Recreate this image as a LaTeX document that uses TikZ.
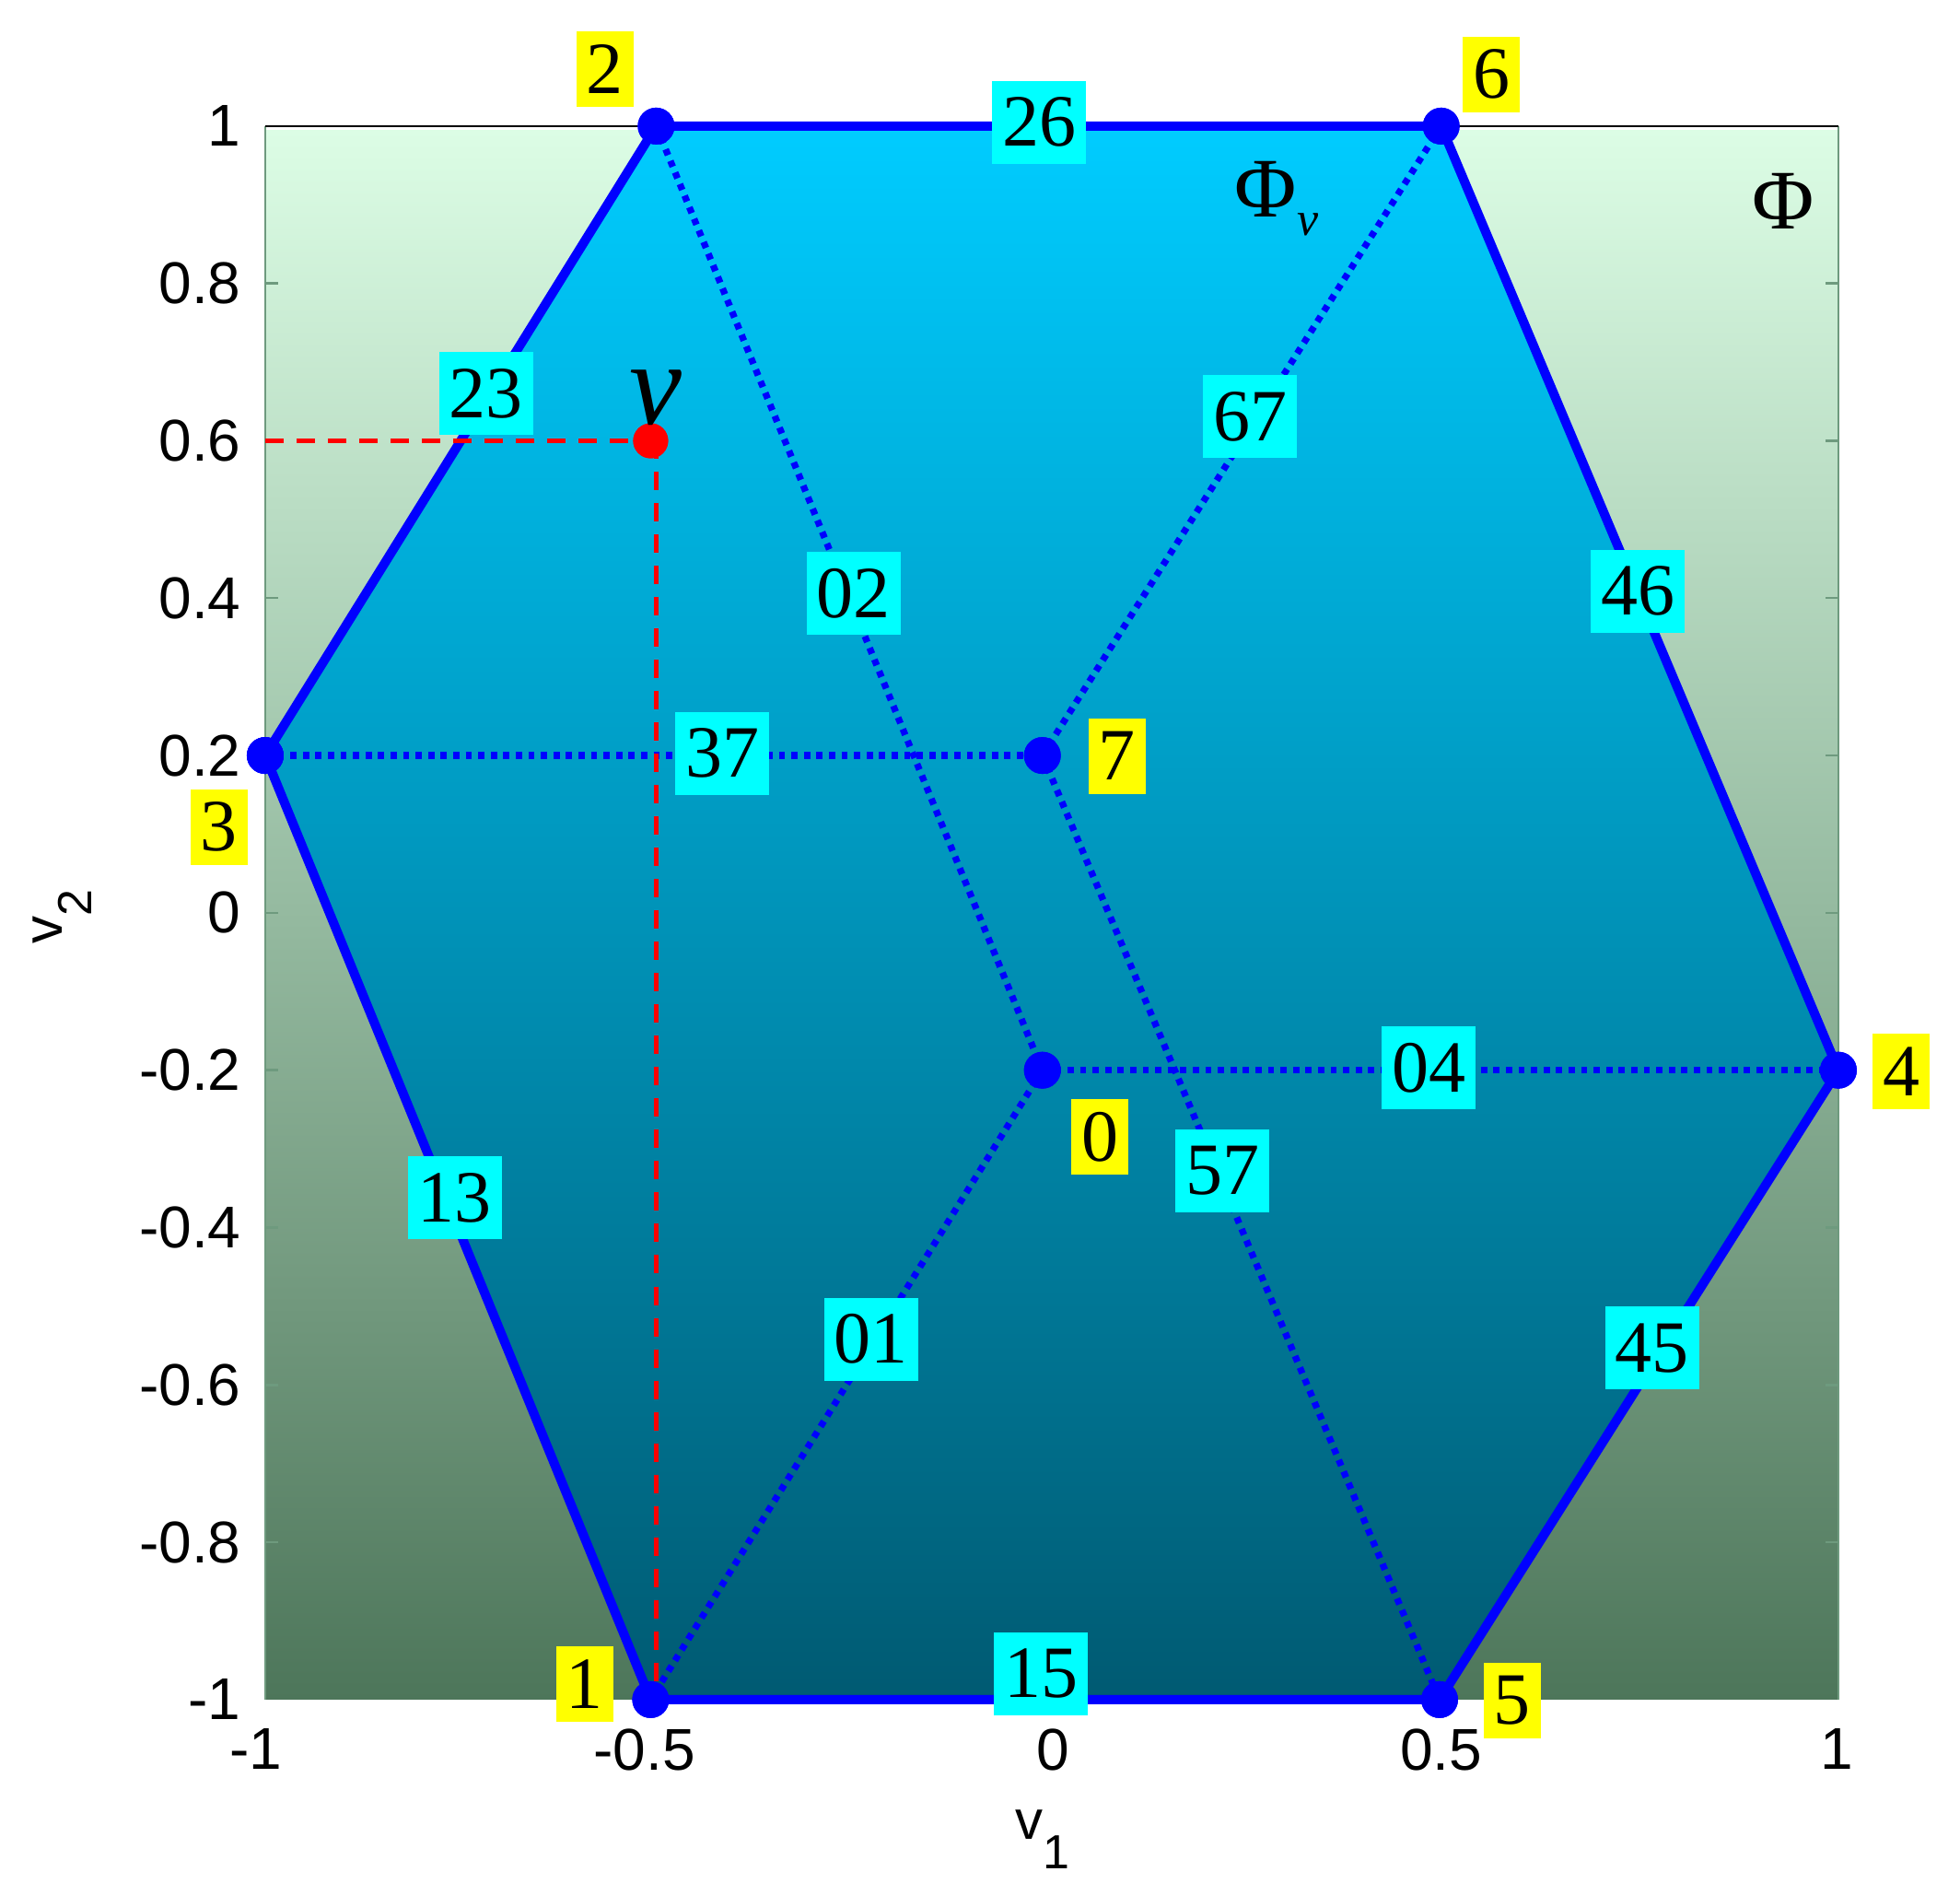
\documentclass[tikz,border=0pt]{standalone}
\usepackage{fontspec}
\setmainfont{Liberation Serif}
\newfontfamily\arialf{Liberation Sans}
\definecolor{bgtop}{HTML}{DCFDE5}
\definecolor{bgbot}{HTML}{4D765A}
\definecolor{hxtop}{HTML}{00CCFF}
\definecolor{hxbot}{HTML}{005A72}
\definecolor{tickc}{HTML}{6E9A7E}
\definecolor{cyanbox}{HTML}{00FFFF}
\definecolor{yelbox}{HTML}{FFFF00}
\definecolor{vblue}{HTML}{0000FF}
\definecolor{vred}{HTML}{FF0000}
\begin{document}
\begin{tikzpicture}[x=213.5pt,y=213.5pt,
  ticklab/.style={font=\arialf\fontsize{16pt}{16pt}\selectfont, inner sep=0pt},
  edgelab/.style={fill=cyanbox, font=\fontsize{20pt}{20pt}\selectfont, minimum width=25.5pt, minimum height=22.5pt, inner sep=0pt},
  vertlab/.style={fill=yelbox, font=\fontsize{20pt}{20pt}\selectfont, minimum width=15.5pt, minimum height=20.5pt, inner sep=0pt},
  vdot/.style={circle, fill=vblue, minimum size=10pt, inner sep=0pt},
  rdot/.style={circle, fill=vred, minimum size=9.5pt, inner sep=0pt},
  hexline/.style={vblue, line width=2.5pt, line join=round},
  dotline/.style={vblue, line width=1.8pt, dash pattern=on 1.7pt off 1.7pt},
  redline/.style={vred, line width=1.4pt, dash pattern=on 5pt off 3.5pt},
  tickline/.style={tickc, line width=0.6pt}
]
\useasboundingbox (-1.3372,-1.2481) rectangle (1.1546,1.1603);
% background
\shade[top color=bgtop, bottom color=bgbot] (-1,-1) rectangle (1,0.995);
% vertex coordinates
\coordinate (c1) at (-0.510,-1);
\coordinate (c2) at (-0.503,1);
\coordinate (c3) at (-1,0.2);
\coordinate (c4) at (1,-0.2);
\coordinate (c5) at (0.493,-1);
\coordinate (c6) at (0.495,1);
\coordinate (c7) at (-0.012,0.2);
\coordinate (c0) at (-0.012,-0.2);
% hexagon fill
\shade[top color=hxtop, bottom color=hxbot] (c2)--(c6)--(c4)--(c5)--(c1)--(c3)--cycle;
% axes frame
\coordinate (axbl) at (-1,-1);
\coordinate (axtl) at (-1,1);
\coordinate (axbr) at (1,-1);
\coordinate (axtr) at (1,1);
\draw[tickline] (axbl)--(axtl);
\draw[tickline] (axbr)--(axtr);
\draw[black, line width=0.5pt] (axtl)--(axtr);
\foreach \yy in {-0.8,-0.6,-0.4,-0.2,0,0.2,0.4,0.6,0.8} {
  \draw[tickline] (-1,\yy)--++(0.0164,0);
  \draw[tickline] (1,\yy)--++(-0.0164,0);
}
% tick labels
\foreach \yy/\tt in {1/1,0.8/0.8,0.6/0.6,0.4/0.4,0.2/0.2,0/0,-0.2/-0.2,-0.4/-0.4,-0.6/-0.6,-0.8/-0.8,-1/-1} {
  \node[ticklab, anchor=east] at (-1.030,\yy) {\tt};
}
\node[ticklab, anchor=north] (xl1) at (-1.012,-1.036) {-1};
\node[ticklab, anchor=north] (xl2) at (-0.518,-1.036) {-0.5};
\node[ticklab, anchor=north] (xl3) at (0.002,-1.036) {0};
\node[ticklab, anchor=north] (xl4) at (0.495,-1.036) {0.5};
\node[ticklab, anchor=north] (xl5) at (0.998,-1.036) {1};
% axis labels
\node[inner sep=0pt, font=\arialf\fontsize{15pt}{15pt}\selectfont] (ax1) at (-0.0117,-1.178) {v\raisebox{-8pt}{\fontsize{13pt}{13pt}\selectfont 1}};
\node[inner sep=0pt, rotate=90, font=\arialf\fontsize{15pt}{15pt}\selectfont] (ax2) at (-1.2576,-0.005) {v\raisebox{-8pt}{\fontsize{13pt}{13pt}\selectfont 2}};
% vertex nodes
\node[vdot] (n1) at (c1) {};
\node[vdot] (n2) at (c2) {};
\node[vdot] (n3) at (c3) {};
\node[vdot] (n4) at (c4) {};
\node[vdot] (n5) at (c5) {};
\node[vdot] (n6) at (c6) {};
\node[vdot] (n7) at (c7) {};
\node[vdot] (n0) at (c0) {};
% dotted interior edges
\draw[dotline] (n2.center)--(n0.center);
\draw[dotline] (n0.center)--(n4.center);
\draw[dotline] (n0.center)--(n1.center);
\draw[dotline] (n3.center)--(n7.center);
\draw[dotline] (n7.center)--(n6.center);
\draw[dotline] (n7.center)--(n5.center);
% hexagon border
\draw[hexline] (n2.center)--(n6.center)--(n4.center)--(n5.center)--(n1.center)--(n3.center)--cycle;
% red point and dashed projections
\coordinate (ry) at (-1,0.6);
\coordinate (rx) at (-0.503,-1);
\coordinate (rtop) at (-0.503,0.6);
\node[rdot] (vp) at (-0.510,0.6) {};
\draw[redline] (ry)--(vp.center);
\draw[redline] (rtop)--(rx);
% dots on top
\foreach \nn in {n1,n2,n3,n4,n5,n6,n7,n0} {\node[vdot] at (\nn) {};}
\node[rdot] at (vp) {};
% edge labels
\node[edgelab] (e26) at (-0.016,1.005) {26};
\node[edgelab] (e23) at (-0.719,0.660) {23};
\node[edgelab] (e67) at (0.252,0.631) {67};
\node[edgelab] (e02) at (-0.252,0.406) {02};
\node[edgelab] (e46) at (0.745,0.409) {46};
\node[edgelab] (e37) at (-0.419,0.203) {37};
\node[edgelab] (e04) at (0.479,-0.197) {04};
\node[edgelab] (e57) at (0.217,-0.328) {57};
\node[edgelab] (e13) at (-0.759,-0.362) {13};
\node[edgelab] (e01) at (-0.230,-0.542) {01};
\node[edgelab] (e45) at (0.763,-0.553) {45};
\node[edgelab] (e15) at (-0.014,-0.967) {15};
% vertex labels
\node[vertlab] (l2) at (-0.568,1.073) {2};
\node[vertlab] (l6) at (0.559,1.066) {6};
\node[vertlab] (l3) at (-1.059,0.109) {3};
\node[vertlab] (l4) at (1.080,-0.202) {4};
\node[vertlab] (l5) at (0.585,-1.001) {5};
\node[vertlab] (l1) at (-0.594,-0.980) {1};
\node[vertlab] (l7) at (0.083,0.1995) {7};
\node[vertlab] (l0) at (0.061,-0.285) {0};
% redraw dot on top where label touches
\node[vdot] at (c3) {};
% v label and Phi labels
\node[inner sep=0pt, font=\fontsize{32pt}{32pt}\selectfont\itshape] (vlab) at (-0.503,0.655) {v};
\node[inner sep=0pt, anchor=base west, font=\fontsize{23pt}{23pt}\selectfont] (phiv) at (0.232,0.884) {Φ\raisebox{-5pt}{\fontsize{13pt}{13pt}\selectfont\itshape v}};
\node[inner sep=0pt, font=\fontsize{23pt}{23pt}\selectfont] (phi) at (0.930,0.905) {Φ};
\end{tikzpicture}
\end{document}
